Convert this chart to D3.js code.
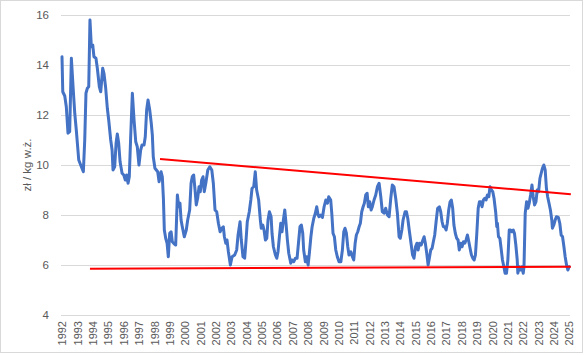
<!DOCTYPE html>
<html><head><meta charset="utf-8">
<script src="https://cdn.jsdelivr.net/npm/d3@7"></script>
<style>body{margin:0;background:#fff}svg{display:block}</style>
</head><body>
<svg id="c" width="585" height="355"></svg>
<script>
const yearTicks = d3.range(1992, 2026);
const yTicks = [4, 6, 8, 10, 12, 14, 16];
const yTitle = "zł / kg w.ż.";

const t = [1992.0,1992.05,1992.18,1992.28,1992.39,1992.5,1992.61,1992.72,1992.83,1992.93,1993.09,1993.26,1993.39,1993.48,1993.56,1993.65,1993.74,1993.82,1993.91,1994.0,1994.08,1994.21,1994.3,1994.43,1994.52,1994.65,1994.73,1994.84,1994.95,1995.04,1995.17,1995.26,1995.32,1995.43,1995.52,1995.6,1995.69,1995.78,1995.91,1996.02,1996.12,1996.21,1996.3,1996.38,1996.47,1996.58,1996.69,1996.8,1996.9,1997.01,1997.12,1997.21,1997.34,1997.42,1997.51,1997.6,1997.71,1997.81,1997.88,1997.94,1998.05,1998.23,1998.32,1998.45,1998.53,1998.6,1998.66,1998.75,1998.84,1998.92,1999.01,1999.1,1999.18,1999.27,1999.4,1999.51,1999.6,1999.68,1999.75,1999.83,1999.96,2000.09,2000.18,2000.31,2000.4,2000.48,2000.57,2000.66,2000.74,2000.83,2000.92,2001.0,2001.09,2001.18,2001.26,2001.36,2001.49,2001.62,2001.75,2001.85,2001.96,2002.07,2002.18,2002.29,2002.4,2002.5,2002.57,2002.66,2002.74,2002.83,2002.96,2003.07,2003.24,2003.37,2003.46,2003.59,2003.67,2003.78,2003.89,2003.98,2004.06,2004.19,2004.29,2004.37,2004.48,2004.58,2004.67,2004.8,2004.91,2004.97,2005.07,2005.15,2005.24,2005.33,2005.41,2005.5,2005.61,2005.67,2005.76,2005.89,2005.98,2006.06,2006.15,2006.24,2006.32,2006.41,2006.5,2006.58,2006.67,2006.76,2006.89,2006.97,2007.08,2007.19,2007.3,2007.41,2007.49,2007.58,2007.67,2007.73,2007.84,2007.93,2008.02,2008.1,2008.2,2008.28,2008.39,2008.49,2008.58,2008.67,2008.73,2008.84,2008.95,2009.06,2009.17,2009.28,2009.36,2009.49,2009.56,2009.64,2009.73,2009.82,2009.92,2010.03,2010.15,2010.25,2010.34,2010.42,2010.51,2010.6,2010.68,2010.8,2010.9,2010.99,2011.08,2011.16,2011.25,2011.34,2011.42,2011.51,2011.6,2011.68,2011.77,2011.86,2011.94,2012.03,2012.12,2012.2,2012.31,2012.42,2012.53,2012.64,2012.75,2012.85,2012.96,2013.07,2013.18,2013.29,2013.4,2013.5,2013.61,2013.72,2013.83,2013.94,2014.02,2014.12,2014.2,2014.33,2014.42,2014.51,2014.6,2014.71,2014.82,2014.91,2015.01,2015.1,2015.18,2015.27,2015.38,2015.49,2015.57,2015.65,2015.74,2015.83,2015.91,2016.0,2016.09,2016.17,2016.26,2016.35,2016.45,2016.56,2016.65,2016.74,2016.82,2016.91,2017.0,2017.08,2017.17,2017.26,2017.34,2017.43,2017.51,2017.6,2017.69,2017.78,2017.86,2017.95,2018.04,2018.13,2018.22,2018.3,2018.39,2018.48,2018.56,2018.65,2018.74,2018.83,2018.91,2019.0,2019.09,2019.17,2019.26,2019.34,2019.43,2019.52,2019.6,2019.69,2019.78,2019.86,2019.95,2020.04,2020.12,2020.23,2020.3,2020.34,2020.41,2020.5,2020.58,2020.67,2020.76,2020.84,2020.93,2021.02,2021.11,2021.19,2021.28,2021.37,2021.45,2021.54,2021.63,2021.67,2021.76,2021.85,2021.94,2022.02,2022.07,2022.15,2022.24,2022.33,2022.41,2022.5,2022.59,2022.67,2022.76,2022.85,2022.93,2023.02,2023.11,2023.19,2023.27,2023.36,2023.45,2023.53,2023.61,2023.7,2023.79,2023.88,2023.92,2024.01,2024.1,2024.18,2024.31,2024.4,2024.49,2024.58,2024.67,2024.75,2024.84,2024.93,2025.01];

const price = [14.33,12.93,12.76,12.33,11.27,11.33,14.27,13.13,12.07,11.4,10.2,9.93,9.73,11.0,12.87,13.07,13.13,15.8,14.73,14.8,14.33,14.27,13.87,13.13,12.93,13.87,13.67,13.1,12.27,11.8,11.0,10.6,9.8,9.93,10.87,11.24,10.87,10.13,9.67,9.6,9.4,9.6,9.27,9.53,11.13,12.87,11.8,10.93,10.73,10.0,10.6,10.8,10.8,11.13,12.2,12.6,12.2,11.67,11.2,10.33,9.87,9.73,9.33,9.73,9.53,8.67,7.4,7.07,6.87,6.33,7.27,7.33,6.93,6.87,6.8,8.8,8.33,8.47,7.8,7.53,7.13,7.4,7.8,8.2,9.27,9.53,9.6,9.0,8.4,8.67,9.13,8.93,9.4,9.53,8.93,9.27,9.8,9.93,9.8,9.27,8.2,8.13,7.67,7.33,7.47,7.53,7.13,6.87,7.0,6.53,6.0,6.33,6.4,6.6,7.2,7.73,7.0,6.33,6.27,7.0,7.73,8.13,8.6,9.07,9.13,9.73,9.0,8.6,7.8,7.47,7.6,7.4,7.0,7.07,7.8,8.13,7.93,7.27,6.73,6.4,6.27,6.53,7.13,7.67,7.33,7.8,8.2,7.67,7.0,6.47,6.07,6.2,6.13,6.27,6.27,7.0,7.53,7.6,7.27,6.6,6.13,6.33,6.0,6.47,7.13,7.53,7.87,8.07,8.33,8.0,7.93,8.0,7.9,8.33,8.6,8.47,8.73,8.6,8.07,7.27,7.13,6.6,6.33,6.13,6.13,6.6,7.33,7.47,7.27,6.73,6.4,6.53,6.33,6.2,6.87,7.2,7.33,7.53,7.67,8.13,8.33,8.47,8.8,8.87,8.33,8.53,8.2,8.33,8.6,8.8,9.13,9.27,8.73,8.13,8.07,8.27,8.0,7.93,8.67,9.2,9.13,8.67,8.07,7.13,7.07,7.4,7.8,8.13,8.13,7.85,7.4,6.9,6.4,6.27,6.73,6.87,6.6,6.87,6.8,7.0,7.13,6.87,6.47,6.0,6.27,6.6,6.67,6.93,7.2,7.73,8.27,8.33,8.13,7.73,7.53,7.53,7.4,7.67,8.2,8.53,8.6,8.27,7.6,7.27,7.07,7.0,6.6,6.87,6.73,6.93,6.87,7.0,7.2,6.93,6.67,6.4,6.27,6.2,6.4,7.27,8.27,8.53,8.53,8.33,8.6,8.67,8.6,8.8,8.73,9.13,9.0,8.93,8.67,8.1,7.53,7.67,7.13,7.07,6.67,6.2,5.93,5.67,5.67,6.2,7.4,7.4,7.33,7.4,7.27,6.8,6.2,5.67,5.93,5.8,5.93,5.67,5.93,8.07,8.53,8.27,8.47,8.8,9.2,8.73,8.4,8.53,9.0,8.93,9.47,9.67,9.87,10.0,9.8,9.07,8.73,8.47,8.2,7.8,7.47,7.6,7.8,7.93,7.9,7.67,7.2,7.13,6.73,6.33,6.0,5.8,5.93];

const upperTrendT = [1998.38, 2025.12];
const upperTrendV = [10.24, 8.83];
const lowerTrendT = [1993.82, 2025.12];
const lowerTrendV = [5.85, 5.93];

const svg = d3.select("#c");
const x = d3.scaleLinear().domain([1992, 2025]).range([62, 569]);
const y = d3.scaleLinear().domain([4, 16]).range([315, 15]);
const font = "'Liberation Sans', Arial, sans-serif";

svg.append("rect").attr("x", 0.5).attr("y", 0.5).attr("width", 582).attr("height", 352)
  .attr("fill", "#fff").attr("stroke", "#d9d9d9");

// gridlines
svg.append("g").selectAll("line").data(yTicks).join("line")
  .attr("x1", 61).attr("x2", 570)
  .attr("y1", d => Math.round(y(d)) + 0.5).attr("y2", d => Math.round(y(d)) + 0.5)
  .attr("stroke", "#d9d9d9").attr("stroke-width", 1);

// y axis labels
const ya = svg.append("g").attr("transform", "translate(49,0)")
  .call(d3.axisLeft(y).tickValues(yTicks).tickSize(0).tickPadding(0));
ya.select(".domain").remove();
ya.selectAll("text").attr("fill", "#595959").style("font", "11.5px " + font);

// x axis labels
const xa = svg.append("g").attr("transform", "translate(0,315)")
  .call(d3.axisBottom(x).tickValues(yearTicks).tickFormat(d3.format("d")).tickSize(0));
xa.select(".domain").remove();
xa.selectAll("text").attr("fill", "#595959").style("font", "11px " + font)
  .attr("transform", "rotate(-90)").attr("text-anchor", "end")
  .attr("x", -6).attr("y", 0).attr("dy", "0.35em");

// y title
svg.append("text").attr("transform", "translate(27,165) rotate(-90)")
  .attr("text-anchor", "middle").attr("dy", "0.35em")
  .attr("fill", "#595959").style("font", "11.5px " + font).text(yTitle);

// data line
const line = d3.line().x(d => x(d[0])).y(d => y(d[1])).curve(d3.curveLinear);
svg.append("path").datum(t.map((d, i) => [d, price[i]]))
  .attr("d", line).attr("fill", "none").attr("stroke", "#4472c4")
  .attr("stroke-width", 3).attr("stroke-linejoin", "round").attr("stroke-linecap", "round");

// trend lines
svg.append("path").datum(upperTrendT.map((d, i) => [d, upperTrendV[i]]))
  .attr("d", line).attr("fill", "none").attr("stroke", "#ff0000").attr("stroke-width", 2);
svg.append("path").datum(lowerTrendT.map((d, i) => [d, lowerTrendV[i]]))
  .attr("d", line).attr("fill", "none").attr("stroke", "#ff0000").attr("stroke-width", 2);
</script>
</body></html>
